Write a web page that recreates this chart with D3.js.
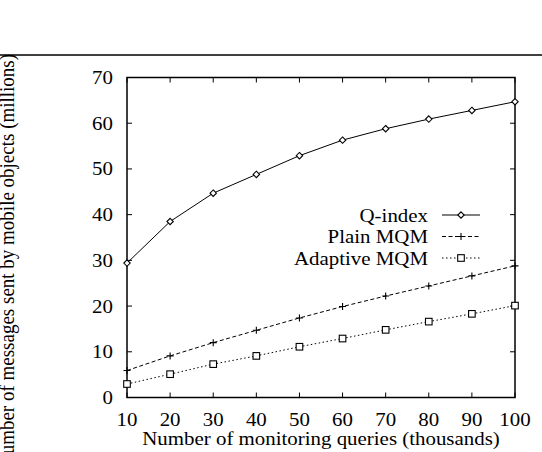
<!DOCTYPE html>
<html><head><meta charset="utf-8">
<script src="https://cdn.jsdelivr.net/npm/d3@7"></script>
<style>body{margin:0;background:#fff}svg{display:block}</style>
</head><body>
<script>
const xValues = [10,20,30,40,50,60,70,80,90,100];
const qIndex = [29.4,38.5,44.7,48.8,52.9,56.3,58.8,60.9,62.8,64.7];
const plainMQM = [5.9,9.1,12.0,14.7,17.4,19.9,22.2,24.4,26.6,28.8];
const adaptiveMQM = [2.95,5.1,7.3,9.1,11.1,12.9,14.8,16.6,18.3,20.1];
const seriesNames = ["Q-index","Plain MQM","Adaptive MQM"];
const xTicks = [10,20,30,40,50,60,70,80,90,100];
const yTicks = [0,10,20,30,40,50,60,70];
const xTitle = "Number of monitoring queries (thousands)";
const yTitle = "Number of messages sent by mobile objects (millions)";

const FONT = "'Liberation Serif', 'DejaVu Serif', serif";
const SX = 1.1;
const W=542,H=452;
const L=127,R=515,T=77.5,B=397.5;
const svg=d3.select("body").append("svg").attr("width",W).attr("height",H);
const x=d3.scaleLinear().domain([10,100]).range([L,R]);
const y=d3.scaleLinear().domain([0,70]).range([B,T]);
function txt(px,py,anchor,rot){
  return svg.append("text").attr("font-family",FONT).attr("fill","#000").attr("font-size",19)
    .attr("text-anchor",anchor)
    .attr("transform",`translate(${px},${py}) scale(${SX},1)`+(rot?` rotate(${rot})`:""));
}

// top rule
svg.append("line").attr("x1",0).attr("x2",W).attr("y1",55).attr("y2",55).attr("stroke","#000").attr("stroke-width",1.6);

// ticks (inward, mirrored)
const tl=5;
const g=svg.append("g").attr("stroke","#000").attr("stroke-width",1);
xTicks.forEach(v=>{
  g.append("line").attr("x1",x(v)).attr("x2",x(v)).attr("y1",B).attr("y2",B-tl);
  g.append("line").attr("x1",x(v)).attr("x2",x(v)).attr("y1",T).attr("y2",T+tl);
});
yTicks.forEach(v=>{
  g.append("line").attr("x1",L).attr("x2",L+tl).attr("y1",y(v)).attr("y2",y(v));
  g.append("line").attr("x1",R).attr("x2",R-tl).attr("y1",y(v)).attr("y2",y(v));
});
svg.append("rect").attr("x",L).attr("y",T).attr("width",R-L).attr("height",B-T).attr("fill","none").attr("stroke","#000").attr("stroke-width",1.5);

// tick labels
xTicks.forEach(v=>txt(x(v),426,"middle").text(v));
yTicks.forEach(v=>txt(113,y(v)+6.5,"end").text(v));
txt((L+R)/2,445,"middle").text(xTitle);
txt(14,261,"middle",-90).text(yTitle);

const series=[
  {name:seriesNames[0],vals:qIndex,dash:null,marker:"diamond"},
  {name:seriesNames[1],vals:plainMQM,dash:"4,2.5",marker:"plus"},
  {name:seriesNames[2],vals:adaptiveMQM,dash:"1.5,2.5",marker:"square"}
];
function drawMarker(sel,type,cx,cy){
  if(type==="diamond"){
    sel.append("path").attr("d",`M${cx},${cy-3.2}L${cx+3.2},${cy}L${cx},${cy+3.2}L${cx-3.2},${cy}Z`).attr("fill","#fff").attr("stroke","#000").attr("stroke-width",1.1);
  } else if(type==="plus"){
    sel.append("path").attr("d",`M${cx-3.5},${cy}H${cx+3.5}M${cx},${cy-3.5}V${cy+3.5}`).attr("stroke","#000").attr("stroke-width",1.1).attr("fill","none");
  } else {
    sel.append("rect").attr("x",cx-3.3).attr("y",cy-3.3).attr("width",6.6).attr("height",6.6).attr("fill","#fff").attr("stroke","#000").attr("stroke-width",1.1);
  }
}
const line=d3.line().x((d,i)=>x(xValues[i])).y(d=>y(d));
series.forEach(s=>{
  const p=svg.append("path").datum(s.vals).attr("d",line).attr("fill","none").attr("stroke","#000").attr("stroke-width",1);
  if(s.dash) p.attr("stroke-dasharray",s.dash);
  s.vals.forEach((v,i)=>drawMarker(svg,s.marker,x(xValues[i]),y(v)));
});

// legend
const legY=[215,236.5,258];
series.forEach((s,i)=>{
  txt(428,legY[i]+6.5,"end").text(s.name);
  const l=svg.append("line").attr("x1",442).attr("x2",480).attr("y1",legY[i]).attr("y2",legY[i]).attr("stroke","#000").attr("stroke-width",1);
  if(s.dash) l.attr("stroke-dasharray",s.dash);
  drawMarker(svg,s.marker,461,legY[i]);
});
</script>
</body></html>
